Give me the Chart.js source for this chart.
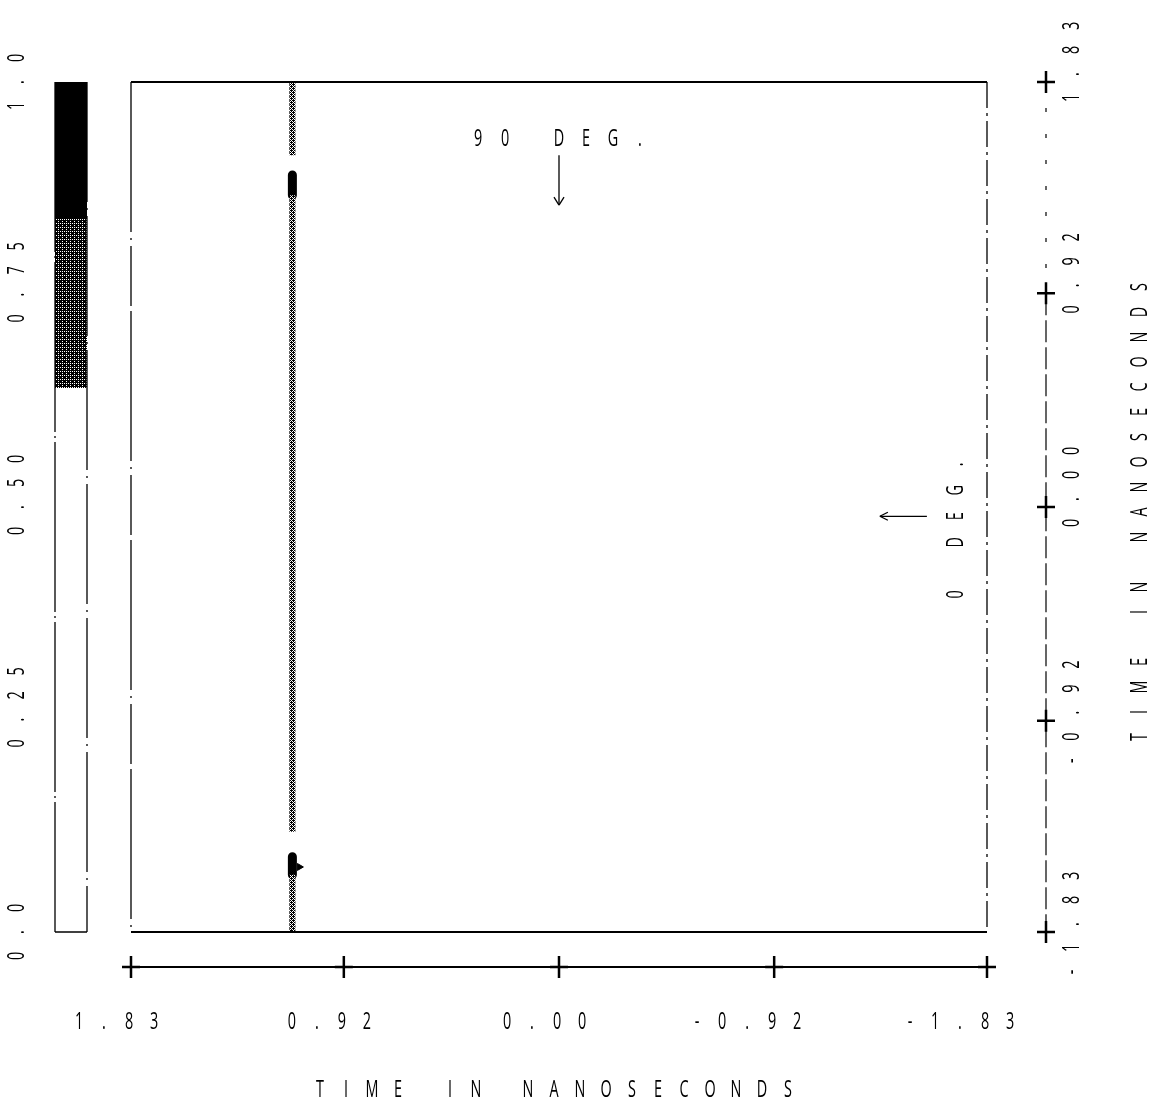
<!DOCTYPE html>
<html>
<head>
<meta charset="utf-8">
<script src="https://cdn.jsdelivr.net/npm/chart.js@4.4.1/dist/chart.umd.min.js"></script>
<style>
  html, body { margin: 0; padding: 0; background: #fff; }
  #wrap { width: 1165px; height: 1120px; }
</style>
</head>
<body>
<div id="wrap"><canvas id="chart" width="1165" height="1120"></canvas></div>
<script>
// time axis (ns) - same ticks on bottom and right
const timeTicks = [1.83, 0.92, 0.00, -0.92, -1.83];
const timeTickLabels = ['1.83', '0.92', '0.00', '-0.92', '-1.83'];

// colour bar on the left
const barTicks = [0.0, 0.25, 0.5, 0.75, 1.0];
const barTickLabels = ['0.0', '0.25', '0.50', '0.75', '1.0'];
const barBlack = [0.84, 1.0];
const barGray = [0.64, 0.84];

// the trace: a single vertical line at t = 1.14 ns
const traceX = 1.14;
const grayRuns = [[1.83, 1.515], [1.342, -1.398], [-1.584, -1.83]];
const blackRuns = [[1.43, 1.342], [-1.506, -1.584]];

// angle markers
const mark90 = { x: 0.0, textY: 1.584, from: 1.515, to: 1.30, label: '90 DEG.' };
const mark0 = { y: -0.04, textX: -1.70, from: -1.573, to: -1.372, label: '0 DEG.' };

const FONT = '400 24px "Open Sans", "DejaVu Sans", sans-serif';

function makePattern(dots) {
  const c = document.createElement('canvas');
  c.width = 4; c.height = 4;
  const g = c.getContext('2d');
  g.fillStyle = '#fff';
  g.fillRect(0, 0, 4, 4);
  g.fillStyle = '#000';
  dots.forEach(d => g.fillRect(d[0], d[1], 1, 1));
  return g.createPattern(c, 'repeat');
}
const checker = [[0,0],[2,0],[1,1],[3,1],[0,2],[2,2],[1,3],[3,3]];
const traceFill = makePattern(checker.concat([[1,0],[3,2]]));
const barFill = makePattern(checker.concat([[1,0],[3,0],[1,2],[3,2],[0,1]]));

// plotter style lettering: narrow characters on a fixed pitch
function spaced(ctx, text, x, y, step, anchor, vertical) {
  ctx.save();
  ctx.translate(x, y);
  if (vertical) ctx.rotate(-Math.PI / 2);
  ctx.font = FONT;
  ctx.fillStyle = '#000';
  ctx.textAlign = 'center';
  ctx.textBaseline = 'middle';
  for (let i = 0; i < text.length; i++) {
    if (text[i] === ' ') continue;
    ctx.save();
    ctx.translate((i - anchor) * step, 0);
    ctx.scale(0.6, 1);
    ctx.fillText(text[i], 0, 0);
    ctx.restore();
  }
  ctx.restore();
}

function plus(ctx, x, y) {
  ctx.save();
  ctx.lineWidth = 2.5;
  ctx.strokeStyle = '#000';
  ctx.setLineDash([]);
  ctx.beginPath();
  ctx.moveTo(x - 9, y); ctx.lineTo(x + 9, y);
  ctx.moveTo(x, y - 11); ctx.lineTo(x, y + 11);
  ctx.stroke();
  ctx.restore();
}

function line(ctx, x1, y1, x2, y2, w, dash) {
  ctx.save();
  ctx.lineWidth = w;
  ctx.strokeStyle = '#000';
  ctx.setLineDash(dash || []);
  ctx.beginPath();
  ctx.moveTo(x1, y1);
  ctx.lineTo(x2, y2);
  ctx.stroke();
  ctx.restore();
}

const plotterFrame = {
  id: 'plotterFrame',
  afterDraw(chart) {
    const ctx = chart.ctx;
    const xs = chart.scales.x, ys = chart.scales.y, bs = chart.scales.bar;
    const a = chart.chartArea;

    // box
    line(ctx, a.left, a.top, a.right, a.top, 2);
    line(ctx, a.left, a.bottom, a.right, a.bottom, 2);
    line(ctx, a.left, a.top, a.left, a.bottom, 1.3, [150, 6, 2, 6, 60, 5]);
    line(ctx, a.right, a.top, a.right, a.bottom, 1.3, [26, 5, 3, 5]);

    // bottom axis
    const axY = a.bottom + 35;
    line(ctx, xs.getPixelForValue(timeTicks[0]), axY, xs.getPixelForValue(timeTicks[4]), axY, 1.8);
    timeTicks.forEach((t, i) => {
      const px = xs.getPixelForValue(t);
      plus(ctx, px, axY);
      const lab = timeTickLabels[i];
      spaced(ctx, lab, px - 27, a.bottom + 90, 25, lab.indexOf('.'), false);
    });
    spaced(ctx, 'TIME IN NANOSECONDS', 554, a.bottom + 158, 26, 9, false);

    // right axis
    const axX = a.right + 59;
    const y92 = ys.getPixelForValue(timeTicks[1]);
    line(ctx, axX, ys.getPixelForValue(timeTicks[0]), axX, y92, 1.2, [4, 22]);
    line(ctx, axX, y92, axX, ys.getPixelForValue(timeTicks[4]), 1.2, [22, 5]);
    timeTicks.forEach((t, i) => {
      const py = ys.getPixelForValue(t);
      plus(ctx, axX, py);
      const lab = timeTickLabels[i];
      spaced(ctx, lab, axX + 26, py - 8, 24, lab.indexOf('.'), true);
    });
    spaced(ctx, 'TIME IN NANOSECONDS', axX + 94, 512, 25, 9, true);

    // colour bar
    const bl = 55, br = 87;
    ctx.save();
    ctx.fillStyle = '#000';
    ctx.fillRect(bl, bs.getPixelForValue(barBlack[1]), br - bl,
      bs.getPixelForValue(barBlack[0]) - bs.getPixelForValue(barBlack[1]));
    ctx.fillStyle = barFill;
    ctx.fillRect(bl, bs.getPixelForValue(barGray[1]), br - bl,
      bs.getPixelForValue(barGray[0]) - bs.getPixelForValue(barGray[1]));
    ctx.restore();
    const b0 = bs.getPixelForValue(0), b1 = bs.getPixelForValue(1);
    line(ctx, bl, b1, bl, b0, 1.3, [170, 4, 2, 4]);
    line(ctx, br, b1, br, b0, 1.3, [120, 6, 2, 6]);
    line(ctx, bl, b0, br, b0, 1.5);
    barTicks.forEach((v, i) => {
      const lab = barTickLabels[i];
      spaced(ctx, lab, 17, bs.getPixelForValue(v), 24, lab.indexOf('.'), true);
    });

    // 90 deg marker
    const mx = xs.getPixelForValue(mark90.x);
    spaced(ctx, mark90.label, mx, ys.getPixelForValue(mark90.textY), 27, 3, false);
    const t1 = ys.getPixelForValue(mark90.from), t2 = ys.getPixelForValue(mark90.to);
    line(ctx, mx, t1, mx, t2, 1.3);
    line(ctx, mx - 5, t2 - 8, mx, t2, 1.3);
    line(ctx, mx + 5, t2 - 8, mx, t2, 1.3);

    // 0 deg marker
    const my = ys.getPixelForValue(mark0.y);
    spaced(ctx, mark0.label, xs.getPixelForValue(mark0.textX), my, 26, 3, true);
    const s1 = xs.getPixelForValue(mark0.from), s2 = xs.getPixelForValue(mark0.to);
    line(ctx, s1, my, s2, my, 1.3);
    line(ctx, s2 + 8, my - 4, s2, my, 1.3);
    line(ctx, s2 + 8, my + 4, s2, my, 1.3);
  }
};

const datasets = [];
grayRuns.forEach(r => datasets.push({
  data: [{ x: traceX, y: r[0] }, { x: traceX, y: r[1] }],
  borderColor: traceFill, borderWidth: 6, pointRadius: 0, showLine: true
}));
blackRuns.forEach(r => datasets.push({
  data: [{ x: traceX, y: r[0] }, { x: traceX, y: r[1] }],
  borderColor: '#000', borderWidth: 9, borderCapStyle: 'round', pointRadius: 0, showLine: true
}));
// little tick on the lower black segment
datasets.push({
  data: [{ x: traceX - 0.03, y: -1.55 }],
  pointStyle: 'triangle', rotation: 90, radius: 4,
  backgroundColor: '#000', borderColor: '#000', showLine: false
});

new Chart(document.getElementById('chart'), {
  type: 'scatter',
  data: { datasets },
  options: {
    responsive: false,
    animation: false,
    layout: { padding: { left: 131, right: 178, top: 82, bottom: 188 } },
    plugins: { legend: { display: false }, tooltip: { enabled: false } },
    scales: {
      x: { type: 'linear', min: -1.83, max: 1.83, reverse: true, display: false },
      y: { type: 'linear', min: -1.83, max: 1.83, display: false },
      bar: { type: 'linear', axis: 'y', min: 0, max: 1, display: false }
    }
  },
  plugins: [plotterFrame]
});
</script>
</body>
</html>
